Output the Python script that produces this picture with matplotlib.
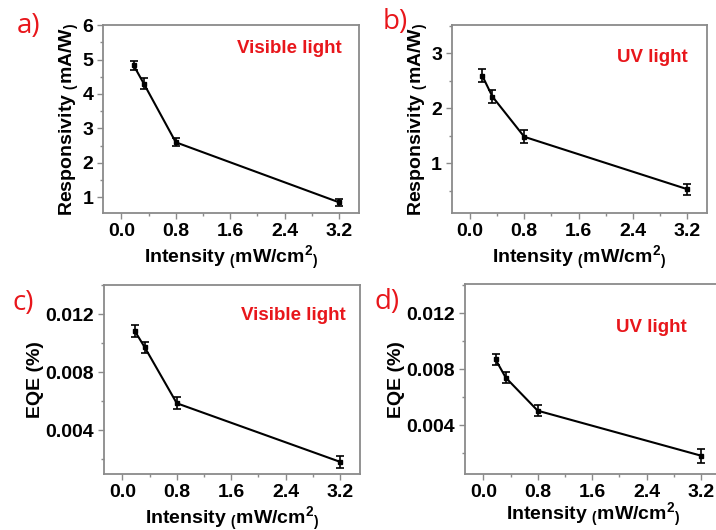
import matplotlib
matplotlib.use("Agg")
import matplotlib.pyplot as plt
from matplotlib.ticker import FixedLocator, MultipleLocator, FormatStrFormatter

plt.rcParams['font.family'] = 'Liberation Sans'
plt.rcParams['font.weight'] = 'bold'
plt.rcParams['mathtext.fontset'] = 'custom'
plt.rcParams['mathtext.rm'] = 'Liberation Sans:bold'
plt.rcParams['mathtext.it'] = 'Liberation Sans:bold'
plt.rcParams['mathtext.bf'] = 'Liberation Sans:bold'

# intensity (mW/cm2)
intensity = [0.18, 0.33, 0.8, 3.2]

# responsivity (mA/W)
resp_vis = [4.83, 4.30, 2.60, 0.86]
resp_vis_err = [0.12, 0.15, 0.12, 0.10]
resp_uv = [2.59, 2.21, 1.48, 0.53]
resp_uv_err = [0.12, 0.12, 0.12, 0.10]

# EQE (%)
eqe_vis = [0.01085, 0.0097, 0.00586, 0.00183]
eqe_vis_err = [0.0004, 0.0004, 0.0004, 0.0004]
eqe_uv = [0.0087, 0.0074, 0.00504, 0.00183]
eqe_uv_err = [0.0004, 0.0004, 0.0004, 0.0005]

x_ticks = [0.0, 0.8, 1.6, 2.4, 3.2]
red = '#e8161b'
gray = '#8a8a8a'

fig = plt.figure(figsize=(7.16, 5.30), dpi=100)

panels = [
    # rect, y, err, ylim, yticks, minor, ylabel, fmt, tag, tag_xy, title, title_xy, xpad
    ([0.1439, 0.5975, 0.358, 0.3553], resp_vis, resp_vis_err, (0.54, 6.0), [1, 2, 3, 4, 5, 6], 0.5,
     r'Responsivity $_($mA/W$_)$', '%d', 'a)', (17, 26), 'Visible light', (0.726, 0.873), 3),
    ([0.6309, 0.5975, 0.357, 0.3553], resp_uv, resp_uv_err, (0.09, 3.51), [1, 2, 3], 0.5,
     r'Responsivity $_($mA/W$_)$', '%d', 'b)', (383, 22), 'UV light', (0.786, 0.825), 3),
    ([0.1453, 0.1051, 0.358, 0.3572], eqe_vis, eqe_vis_err, (0.00097, 0.014), [0.004, 0.008, 0.012], 0.002,
     'EQE (%)', '%.3f', 'c)', (12, 303), 'Visible light', (0.737, 0.838), 3),
    ([0.6494, 0.1057, 0.358, 0.3579], eqe_uv, eqe_uv_err, (0.00052, 0.01407), [0.004, 0.008, 0.012], 0.002,
     'EQE (%)', '%.3f', 'd)', (375, 302), 'UV light', (0.728, 0.773), 0),
]

for rect, y, err, ylim, yticks, minor, ylabel, fmt, tag, tag_xy, title, title_xy, xpad in panels:
    ax = fig.add_axes(rect)
    ax.errorbar(intensity, y, yerr=err, color='black', marker='s', markersize=3.5,
                linewidth=1.5, elinewidth=1.2, capsize=3, capthick=1.2)
    ax.set_xlim(-0.27, 3.5)
    ax.set_ylim(*ylim)
    ax.xaxis.set_major_locator(FixedLocator(x_ticks))
    ax.xaxis.set_minor_locator(MultipleLocator(0.4))
    ax.xaxis.set_major_formatter(FormatStrFormatter('%.1f'))
    ax.yaxis.set_major_locator(FixedLocator(yticks))
    ax.yaxis.set_minor_locator(MultipleLocator(minor))
    ax.yaxis.set_major_formatter(FormatStrFormatter(fmt))
    for s in ax.spines.values():
        s.set_color(gray)
        s.set_linewidth(1.3)
    ax.tick_params(which='both', direction='out', color=gray, width=1.0, labelsize=14, pad=3)
    ax.tick_params(which='major', length=4)
    ax.tick_params(which='minor', length=2.5)
    ax.set_xlabel(r'Intensity $_($mW/cm$^2$$_)$', fontsize=14, fontweight='bold', labelpad=xpad)
    ax.set_ylabel(ylabel, fontsize=14, fontweight='bold', labelpad=1)
    ax.text(title_xy[0], title_xy[1], title, transform=ax.transAxes, color=red,
            fontsize=13.5, fontweight='bold', ha='center', va='center')
    fig.text(tag_xy[0] / 716, 1 - tag_xy[1] / 530, tag, color=red, fontsize=20,
             fontweight='normal', family='Open Sans', ha='left', va='center')

fig.savefig('out.png', dpi=100)
